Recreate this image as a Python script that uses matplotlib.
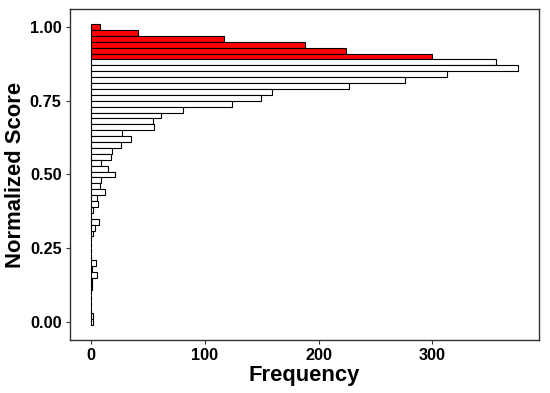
import matplotlib
matplotlib.use('Agg')
import matplotlib.pyplot as plt
import numpy as np

# Bin centers (normalized score) from 1.00 down to 0.00, step 0.02
scores = [1.00, 0.98, 0.96, 0.94, 0.92, 0.90, 0.88, 0.86, 0.84, 0.82,
          0.80, 0.78, 0.76, 0.74, 0.72, 0.70, 0.68, 0.66, 0.64, 0.62,
          0.60, 0.58, 0.56, 0.54, 0.52, 0.50, 0.48, 0.46, 0.44, 0.42,
          0.40, 0.38, 0.36, 0.34, 0.32, 0.30, 0.28, 0.26, 0.24, 0.22,
          0.20, 0.18, 0.16, 0.14, 0.12, 0.10, 0.08, 0.06, 0.04, 0.02,
          0.00]
counts = [8, 41, 117, 188, 224, 300, 356, 375, 313, 276,
          227, 159, 149, 124, 81, 61, 54, 55, 27, 35,
          26, 18, 17, 9, 15, 21, 9, 8, 12, 5,
          6, 2, 0, 7, 3, 2, 0, 0, 0, 0,
          4, 1, 5, 1, 1, 0, 0, 0, 0, 2,
          2]
highlight_cutoff = 0.89  # bins above this are drawn red

plt.rcParams['font.family'] = ['Liberation Sans', 'DejaVu Sans']

fig = plt.figure(figsize=(5.5, 3.93), dpi=100)
ax = fig.add_axes([0.127, 0.135, 0.853, 0.842])

fills = ['#FF0000' if s > highlight_cutoff else 'white' for s in scores]
ax.barh(scores, counts, height=0.02, color=fills, edgecolor='black', linewidth=0.8)

ax.set_xlim(-18.75, 393.75)
ax.set_ylim(-0.061, 1.061)
ax.set_xticks([0, 100, 200, 300])
ax.set_yticks([0.0, 0.25, 0.5, 0.75, 1.0])
ax.set_yticklabels(['0.00', '0.25', '0.50', '0.75', '1.00'])

for side in ax.spines.values():
    side.set_color('#333333')
    side.set_linewidth(1.0)
ax.tick_params(axis='both', length=3, width=0.8, color='#333333', labelsize=11.7, pad=3,
               labelcolor='black')
for lbl in ax.get_xticklabels() + ax.get_yticklabels():
    lbl.set_fontweight('bold')

ax.set_xlabel('Frequency', fontsize=15.8, fontweight='bold', labelpad=1)
ax.set_ylabel('Normalized Score', fontsize=15.8, fontweight='bold', labelpad=3)

fig.savefig('out.png', dpi=100)
